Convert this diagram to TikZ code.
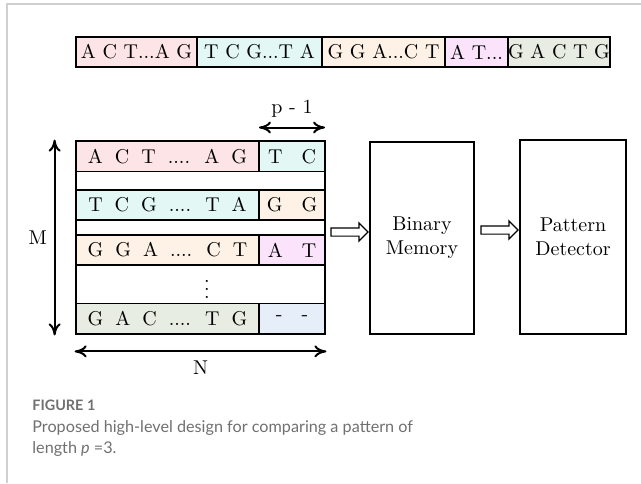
\documentclass[tikz,border=0pt]{standalone}
\usepackage{fontspec}
\usepackage{xcolor}
\usetikzlibrary{positioning,shapes.arrows,arrows.meta}
\newfontfamily\capfont{Lato}

\definecolor{seqpink}{RGB}{253,228,230}
\definecolor{seqcyan}{RGB}{227,247,245}
\definecolor{seqorange}{RGB}{253,242,229}
\definecolor{seqpurple}{RGB}{251,228,251}
\definecolor{seqgreen}{RGB}{232,237,228}
\definecolor{seqblue}{RGB}{230,238,250}
\definecolor{capgray}{RGB}{112,112,112}
\definecolor{framegray}{RGB}{208,208,208}

\begin{document}
\begin{tikzpicture}
  [x=0.5pt,y=-0.5pt,
   seq/.style={draw,line width=0.7pt,inner sep=0,outer sep=0,minimum height=15pt},
   cell/.style={draw,line width=0.6pt,inner sep=0,outer sep=0,minimum height=15pt},
   gap/.style={execute at begin node={\spaceskip=#1\relax}},
   block/.style={draw,line width=1.4pt,minimum width=52pt,minimum height=96pt,align=center},
   hollow/.style={single arrow,draw,line width=0.6pt,inner sep=1.75pt,minimum height=18.5pt,
                  single arrow head extend=2.5pt},
   dim/.style={{To[length=6pt,width=6pt]}-{To[length=6pt,width=6pt]},line width=1pt}]
  \useasboundingbox (0,0) rectangle (641,483);
  \draw[framegray,line width=0.75pt] (7,483) -- (7,4) -- (641,4);

  % the whole sequence
  \node[seq,fill=seqpink,minimum width=60.5pt,anchor=west] (s1) at (76,52) {A C T...A G};
  \node[seq,fill=seqcyan,minimum width=62.5pt,right=0pt of s1] (s2) {T C G...T A};
  \node[seq,fill=seqorange,minimum width=61.5pt,right=0pt of s2] (s3) {G G A...C T};
  \node[seq,fill=seqpurple,minimum width=31.5pt,right=0pt of s3] (s4) {A T...};
  \node[seq,fill=seqgreen,minimum width=44pt,right=0pt of s4] (s5) {G A C T G};

  % rows: chunk plus the p-1 overlap
  \node[cell,gap=6pt,fill=seqpink,minimum width=91.5pt] (l1) at (167.5,156.5) {A C T .... A G};
  \node[cell,gap=9.5pt,fill=seqcyan,minimum width=33pt,right=0pt of l1] (r1) {T C};
  \node[cell,gap=6pt,fill=seqcyan,minimum width=91.5pt] (l2) at (167.5,205) {T C G .... T A};
  \node[cell,gap=9.5pt,fill=seqorange,minimum width=33pt,right=0pt of l2] (r2) {G G};
  \node[cell,gap=6pt,fill=seqorange,minimum width=91.5pt] (l3) at (167.5,250) {G G A .... C T};
  \node[cell,gap=9.5pt,fill=seqpurple,minimum width=33pt,right=0pt of l3] (r3) {A T};
  \node (dots) at (207,283) {$\vdots$};
  \node[cell,gap=6pt,fill=seqgreen,minimum width=91.5pt] (l4) at (167.5,318.5) {G A C .... T G};
  \node[cell,gap=9.5pt,fill=seqblue,minimum width=33pt,right=0pt of l4] (r4) {- -};
  \node[draw,line width=1.4pt,minimum width=124.5pt,minimum height=96.5pt] (grid) at (200.5,237.5) {};

  \draw[dim] ([xshift=-10pt]grid.south west) -- ([xshift=-10pt]grid.north west)
    node[midway,left=0pt] (mlab) {M};
  \draw[dim] ([yshift=7pt]r1.north west) -- ([yshift=7pt]r1.north east)
    node[midway,above=1pt] (plab) {p - 1};
  \draw[dim] ([yshift=-8pt]grid.south west) -- ([yshift=-8pt]grid.south east)
    node[midway,below=1pt] (nlab) {N};

  \node[block] (mem) at (422,238) {Binary\\Memory};
  \node[block,minimum width=53pt,minimum height=97pt] (det) at (573,237) {Pattern\\Detector};
  \node[hollow] (a1) at (347.5,232) {};
  \node[hollow] (a2) at (497.5,230) {};

  % caption
  \node[anchor=north west,inner sep=0,text=capgray,font=\capfont\bfseries\fontsize{7.2}{8}\selectfont] (fig) at (32,400) {FIGURE 1};
  \node[anchor=north west,inner sep=0,text=capgray,align=left,font=\capfont\fontsize{8.1}{10.8}\selectfont] (cap) at (32,420)
    {Proposed high-level design for comparing a pattern of\\length \textit{p} =3.};
\end{tikzpicture}
\end{document}
